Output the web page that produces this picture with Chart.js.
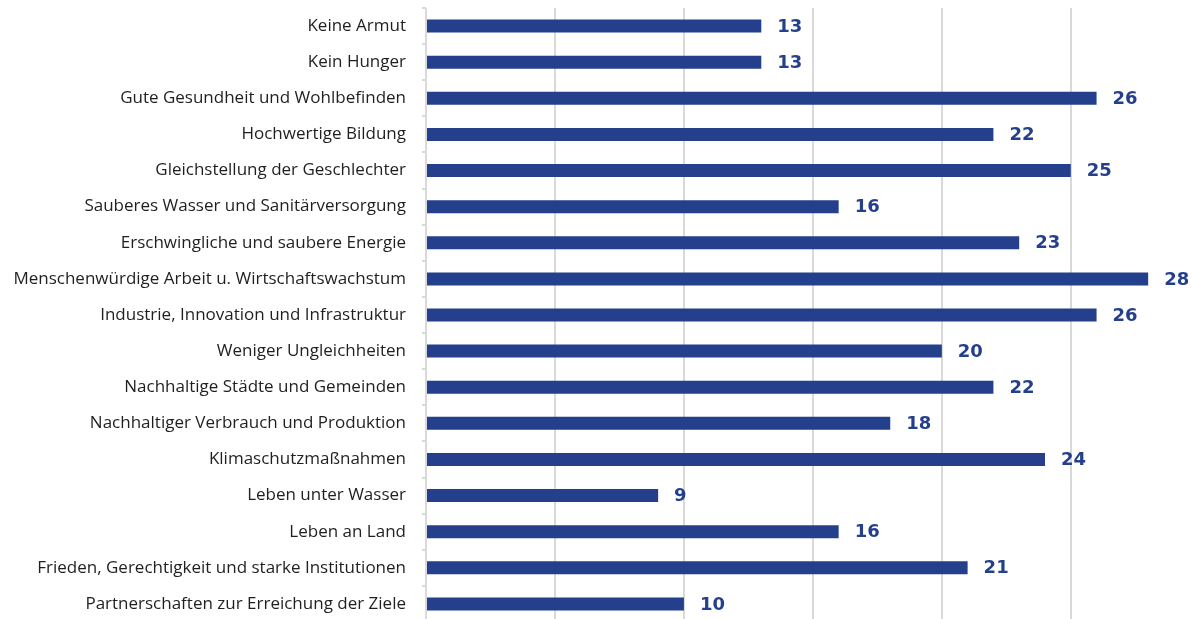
<!DOCTYPE html>
<html lang="de">
<head>
<meta charset="utf-8">
<script src="https://cdn.jsdelivr.net/npm/chart.js@4"></script>
<style>
  html, body { margin: 0; padding: 0; background: #fff; overflow: hidden; }
  #wrap { width: 1192px; height: 622px; position: relative; }
</style>
</head>
<body>
<div id="wrap"><canvas id="sdgChart"></canvas></div>
<script>
// ================= DATA =================
const categories = [
  "Keine Armut",
  "Kein Hunger",
  "Gute Gesundheit und Wohlbefinden",
  "Hochwertige Bildung",
  "Gleichstellung der Geschlechter",
  "Sauberes Wasser und Sanitärversorgung",
  "Erschwingliche und saubere Energie",
  "Menschenwürdige Arbeit u. Wirtschaftswachstum",
  "Industrie, Innovation und Infrastruktur",
  "Weniger Ungleichheiten",
  "Nachhaltige Städte und Gemeinden",
  "Nachhaltiger Verbrauch und Produktion",
  "Klimaschutzmaßnahmen",
  "Leben unter Wasser",
  "Leben an Land",
  "Frieden, Gerechtigkeit und starke Institutionen",
  "Partnerschaften zur Erreichung der Ziele"
];
const counts = [13, 13, 26, 22, 25, 16, 23, 28, 26, 20, 22, 18, 24, 9, 16, 21, 10];
const gridSteps = [0, 5, 10, 15, 20, 25];

const BAR_COLOR = "#243f8c";

// ================= VALUE LABELS =================
const valueLabels = {
  id: "valueLabels",
  afterDatasetsDraw(chart) {
    const { ctx } = chart;
    const meta = chart.getDatasetMeta(0);
    ctx.save();
    ctx.font = "bold 18px 'DejaVu Sans', sans-serif";
    ctx.fillStyle = BAR_COLOR;
    ctx.textAlign = "left";
    ctx.textBaseline = "middle";
    meta.data.forEach((bar, i) => {
      ctx.fillText(String(counts[i]), bar.x + 16, bar.y + 1);
    });
    ctx.restore();
  }
};

// ================= CHART =================
new Chart(document.getElementById("sdgChart"), {
  type: "bar",
  data: {
    labels: categories,
    datasets: [{
      data: counts,
      backgroundColor: BAR_COLOR,
      barPercentage: 0.36,
      categoryPercentage: 1
    }]
  },
  plugins: [valueLabels],
  options: {
    indexAxis: "y",
    responsive: true,
    maintainAspectRatio: false,
    animation: false,
    layout: { padding: { top: 8, right: 0, bottom: 0, left: 0 } },
    plugins: {
      legend: { display: false },
      tooltip: { enabled: false }
    },
    scales: {
      x: {
        min: 0,
        max: 29.7,
        afterBuildTicks(axis) {
          axis.ticks = gridSteps.map(v => ({ value: v }));
        },
        afterFit(axis) {
          axis.height = 0;
        },
        ticks: { display: false },
        grid: { color: "#d9d9d9", lineWidth: 2, drawTicks: false },
        border: { display: false }
      },
      y: {
        afterFit(axis) {
          axis.width = 426;
          axis.paddingTop = 0;
          axis.paddingBottom = 0;
        },
        ticks: {
          color: "#1f1f1f",
          font: { family: "'Open Sans', sans-serif", size: 17 },
          padding: 16
        },
        grid: {
          drawOnChartArea: false,
          drawTicks: true,
          tickLength: 4,
          color: "#d9d9d9",
          lineWidth: 2
        },
        border: { display: false }
      }
    }
  }
});
</script>
</body>
</html>
